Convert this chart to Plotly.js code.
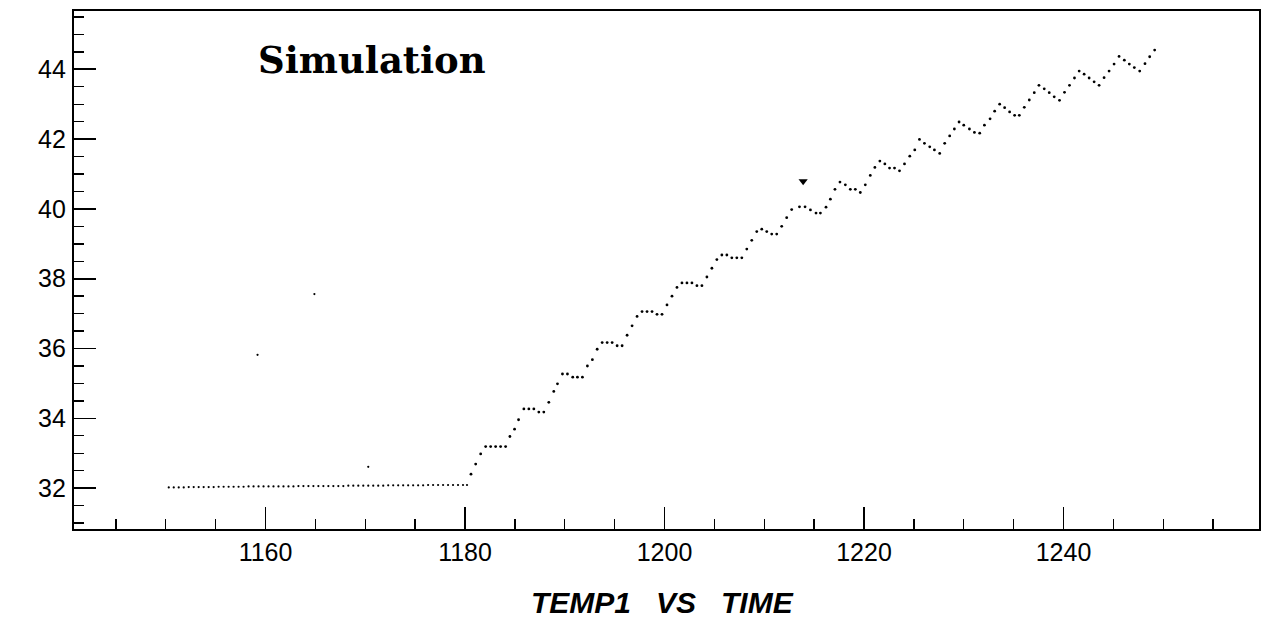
<!DOCTYPE html>
<html>
<head>
<meta charset="utf-8">
<script src="https://cdn.plot.ly/plotly-3.0.1.min.js"></script>
<style>html,body{margin:0;padding:0;background:#fff;}#chart{width:1264px;height:641px;}</style>
</head>
<body>
<div id="chart"></div>
<script>
// Flat (pre-heating) part of TEMP1 vs TIME
const timeFlat = [1150.3,1150.8,1151.3,1151.8,1152.3,1152.8,1153.3,1153.8,1154.3,1154.8,1155.3,1155.8,1156.3,1156.8,1157.3,1157.8,1158.3,1158.8,1159.3,1159.8,1160.3,1160.8,1161.3,1161.8,1162.3,1162.8,1163.3,1163.8,1164.3,1164.8,1165.3,1165.8,1166.3,1166.8,1167.3,1167.8,1168.3,1168.8,1169.3,1169.8,1170.3,1170.8,1171.3,1171.8,1172.3,1172.8,1173.3,1173.8,1174.3,1174.8,1175.3,1175.8,1176.3,1176.8,1177.3,1177.8,1178.3,1178.8,1179.3,1179.8,1180.2];
const tempFlat = [32.02,32.02,32.02,32.02,32.03,32.03,32.03,32.03,32.03,32.03,32.04,32.04,32.04,32.04,32.04,32.04,32.05,32.05,32.05,32.05,32.05,32.05,32.05,32.05,32.05,32.05,32.06,32.06,32.06,32.06,32.06,32.06,32.06,32.06,32.06,32.06,32.07,32.07,32.07,32.07,32.07,32.07,32.07,32.07,32.08,32.08,32.08,32.08,32.08,32.08,32.08,32.08,32.09,32.09,32.09,32.09,32.09,32.09,32.09,32.09,32.09];

// Heating part (stepped rise)
const timeRise = [1180.6,1181.07,1181.57,1182.07,1182.57,1183.07,1183.57,1184.07,1184.5,1184.97,1185.37,1185.9,1186.4,1186.9,1187.4,1187.9,1188.4,1188.9,1189.27,1189.77,1190.27,1190.8,1191.27,1191.77,1192.27,1192.77,1193.25,1193.75,1194.25,1194.75,1195.25,1195.75,
1196.25,1196.75,1197.25,1197.75,1198.25,1198.75,1199.25,1199.75,1200.25,1200.75,1201.25,1201.75,1202.25,1202.75,1203.25,1203.75,1204.25,1204.75,1205.25,1205.75,1206.25,1206.75,1207.25,1207.75,1208.25,1208.75,1209.25,1209.75,1210.25,1210.75,1211.25,1211.75,1212.25,1212.75,
1213.53,1214.09,1214.63,1215.19,1215.63,1216.19,1216.63,1217.09,1217.59,1218.13,1218.63,1219.13,1219.63,1220.13,1220.63,1221.09,1221.59,1222.09,1222.56,1223.06,1223.56,1224.06,1224.59,1225.09,1225.56,1226.06,1226.59,1227.06,1227.59,1228.09,1228.59,1229.06,1229.53,1230.0,1230.57,1231.07,1231.6,1232.07,1232.64,1233.1,1233.6,1234.1,1234.6,1235.1,1235.57,1236.07,1236.57,1237.07,1237.54,1238.07,1238.57,1239.07,1239.6,1240.1,1240.6,1241.1,1241.57,1242.07,1242.57,1243.07,1243.57,1244.07,1244.57,1245.07,1245.57,1246.1,1246.6,1247.1,1247.64,1248.17,1248.64,1249.14];
const tempRise = [32.40,32.69,32.98,33.19,33.19,33.19,33.19,33.19,33.48,33.69,33.96,34.27,34.27,34.27,34.18,34.18,34.46,34.77,34.99,35.27,35.27,35.18,35.18,35.18,35.50,35.68,35.98,36.17,36.17,36.17,36.08,36.08,
36.38,36.65,36.92,37.06,37.06,37.06,36.98,36.98,37.25,37.50,37.75,37.88,37.88,37.88,37.80,37.80,38.05,38.30,38.55,38.68,38.68,38.60,38.60,38.60,38.85,39.10,39.35,39.42,39.35,39.28,39.28,39.50,39.75,39.98,
40.06,40.06,39.97,39.88,39.88,40.05,40.28,40.56,40.77,40.69,40.56,40.56,40.47,40.69,40.96,41.19,41.37,41.29,41.17,41.17,41.09,41.29,41.51,41.69,41.99,41.88,41.78,41.69,41.59,41.88,42.09,42.29,42.49,42.40,42.29,42.19,42.17,42.40,42.58,42.80,43.00,42.90,42.78,42.68,42.68,42.91,43.12,43.33,43.54,43.44,43.33,43.21,43.11,43.34,43.54,43.75,43.95,43.86,43.75,43.64,43.54,43.76,43.95,44.15,44.37,44.26,44.15,44.05,43.95,44.16,44.36,44.55];

// Stray marks visible on the original plot
const timeStray = [1159.2,1164.9,1170.3];
const tempStray = [35.82,37.56,32.61];
const timeMark = [1213.9];
const tempMark = [40.79];

const xTickVals = [1160,1180,1200,1220,1240];
const yTickVals = [32,34,36,38,40,42,44];

const traces = [
  {x: timeFlat, y: tempFlat, mode:'markers', type:'scatter', marker:{color:'#000', size:2.2}},
  {x: timeRise, y: tempRise, mode:'markers', type:'scatter', marker:{color:'#000', size:2.8}},
  {x: timeStray, y: tempStray, mode:'markers', type:'scatter', marker:{color:'#000', size:2.2}},
  {x: timeMark, y: tempMark, mode:'markers', type:'scatter', marker:{color:'#000', size:8, symbol:'triangle-down'}}
];

const axisFont = {family:'Liberation Sans, Arial, sans-serif', size:25, color:'#000'};
const layout = {
  width:1264, height:641,
  margin:{l:74, r:5, t:11, b:112, pad:0},
  paper_bgcolor:'#fff', plot_bgcolor:'#fff',
  showlegend:false,
  xaxis:{
    range:[1140.8,1259.6], tickmode:'array', tickvals:xTickVals,
    ticks:'inside', ticklen:22, tickwidth:1.6, tickcolor:'#000',
    minor:{dtick:5, tick0:1140, ticks:'inside', ticklen:10, tickwidth:1.4, tickcolor:'#000'},
    showline:true, linecolor:'#000', linewidth:2.2, mirror:true,
    showgrid:false, zeroline:false, tickfont:axisFont, ticklabelstandoff:0
  },
  yaxis:{
    range:[30.83,45.67], tickmode:'array', tickvals:yTickVals,
    ticks:'inside', ticklen:22, tickwidth:1.6, tickcolor:'#000',
    minor:{dtick:0.5, tick0:30, ticks:'inside', ticklen:10, tickwidth:1.4, tickcolor:'#000'},
    showline:true, linecolor:'#000', linewidth:2.2, mirror:true,
    showgrid:false, zeroline:false, tickfont:axisFont, ticklabelstandoff:1
  },
  annotations:[
    {text:'<b>Simulation</b>', xref:'paper', yref:'paper', x:0.154, y:0.905, xanchor:'left', yanchor:'middle', showarrow:false,
     font:{family:'DejaVu Serif, serif', size:37, color:'#000'}},
    {text:'<b><i>TEMP1&nbsp;&nbsp;&nbsp;VS&nbsp;&nbsp;&nbsp;TIME</i></b>', xref:'paper', yref:'paper', x:0.497, y:-0.141, xanchor:'center', yanchor:'middle', showarrow:false,
     font:{family:'Liberation Sans, Arial, sans-serif', size:30, color:'#000'}}
  ]
};
Plotly.newPlot('chart', traces, layout, {displayModeBar:false, staticPlot:true});
</script>
</body>
</html>
